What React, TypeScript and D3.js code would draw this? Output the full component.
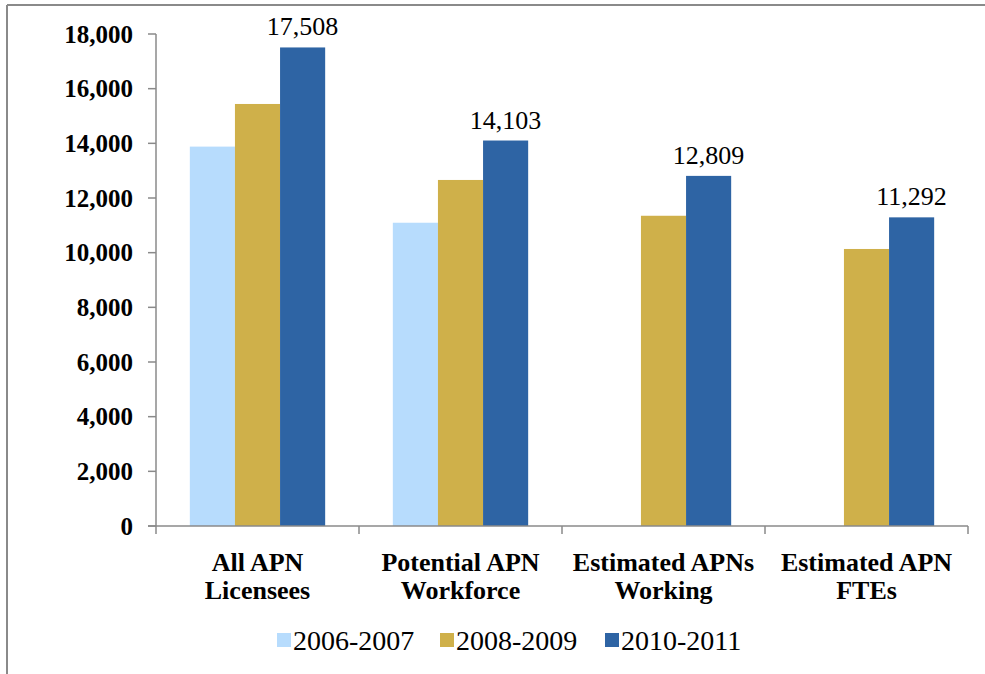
import React from "react";
import * as d3 from "d3";

const categories = [
  ["All APN", "Licensees"],
  ["Potential APN", "Workforce"],
  ["Estimated APNs", "Working"],
  ["Estimated APN", "FTEs"],
];
const seriesNames = ["2006-2007", "2008-2009", "2010-2011"];
const seriesColors = ["#B7DCFD", "#CFB04A", "#2E64A4"];
const values2006 = [13880, 11095, null, null];
const values2008 = [15440, 12660, 11350, 10135];
const values2010 = [17508, 14103, 12809, 11292];
const yTicks = [0, 2000, 4000, 6000, 8000, 10000, 12000, 14000, 16000, 18000];

const W = 985;
const H = 674;
const plot = { left: 156, right: 968, top: 34, bottom: 526 };
const font = "Liberation Serif, Tinos, Times, serif";
const axisColor = "#8a8a8a";

export default function App() {
  const series = [values2006, values2008, values2010];
  const catIdx = categories.map((_, i) => i);

  const x0 = d3.scaleBand<number>().domain(catIdx).range([plot.left, plot.right]).paddingInner(0).paddingOuter(0);
  const groupW = (x0.bandwidth() * 3) / 4.5;
  const x1 = d3.scaleBand<number>().domain([0, 1, 2]).range([0, groupW]);
  const y = d3.scaleLinear().domain([0, 18000]).range([plot.bottom, plot.top]);
  const fmt = d3.format(",");

  const bars: JSX.Element[] = [];
  series.forEach((vals, s) => {
    vals.forEach((v, c) => {
      if (v == null) return;
      const bx = x0(c)! + (x0.bandwidth() - groupW) / 2 + x1(s)!;
      bars.push(
        <rect key={`b${s}-${c}`} x={bx} y={y(v)} width={x1.bandwidth()} height={y(0) - y(v)} fill={seriesColors[s]} />
      );
    });
  });

  const labels = values2010.map((v, c) => {
    const bx = x0(c)! + (x0.bandwidth() - groupW) / 2 + x1(2)! + x1.bandwidth() / 2;
    return (
      <text key={`l${c}`} x={bx} y={y(v) - 12} textAnchor="middle" fontSize={26} fill="#000">
        {fmt(v)}
      </text>
    );
  });

  const legendX = [277, 440, 605];

  return (
    <svg width={W} height={H} style={{ position: "absolute", left: 0, top: 0, background: "#fff", fontFamily: font }}>
      <rect x={0} y={0} width={W} height={H} fill="#fff" />
      {/* chart area frame */}
      <line x1={7} y1={5} x2={W} y2={5} stroke={axisColor} strokeWidth={2} />
      <line x1={7} y1={5} x2={7} y2={H} stroke={axisColor} strokeWidth={2} />

      {bars}

      {/* y axis */}
      <line x1={plot.left} y1={plot.top} x2={plot.left} y2={plot.bottom} stroke={axisColor} strokeWidth={1.5} />
      {yTicks.map((t) => (
        <g key={`t${t}`}>
          <line x1={plot.left - 8} x2={plot.left} y1={y(t)} y2={y(t)} stroke={axisColor} strokeWidth={1.5} />
          <text x={133} y={y(t)} dy="0.35em" textAnchor="end" fontSize={25} fontWeight="bold">
            {fmt(t)}
          </text>
        </g>
      ))}

      {/* x axis */}
      <line x1={plot.left - 8} y1={plot.bottom} x2={plot.right} y2={plot.bottom} stroke={axisColor} strokeWidth={1.5} />
      {[...catIdx, categories.length].map((i) => {
        const tx = i < categories.length ? x0(i)! : plot.right;
        return <line key={`xt${i}`} x1={tx} x2={tx} y1={plot.bottom} y2={plot.bottom + 8} stroke={axisColor} strokeWidth={1.5} />;
      })}
      {categories.map((lines, i) =>
        lines.map((ln, k) => (
          <text
            key={`c${i}-${k}`}
            x={x0(i)! + x0.bandwidth() / 2}
            y={571 + k * 28}
            textAnchor="middle"
            fontSize={26}
            fontWeight="bold"
          >
            {ln}
          </text>
        ))
      )}

      {labels}

      {/* legend */}
      {seriesNames.map((name, s) => (
        <g key={`lg${s}`}>
          <rect x={legendX[s]} y={633} width={14} height={14} fill={seriesColors[s]} />
          <text x={legendX[s] + 16} y={640} dy="0.35em" fontSize={28}>
            {name}
          </text>
        </g>
      ))}
    </svg>
  );
}
